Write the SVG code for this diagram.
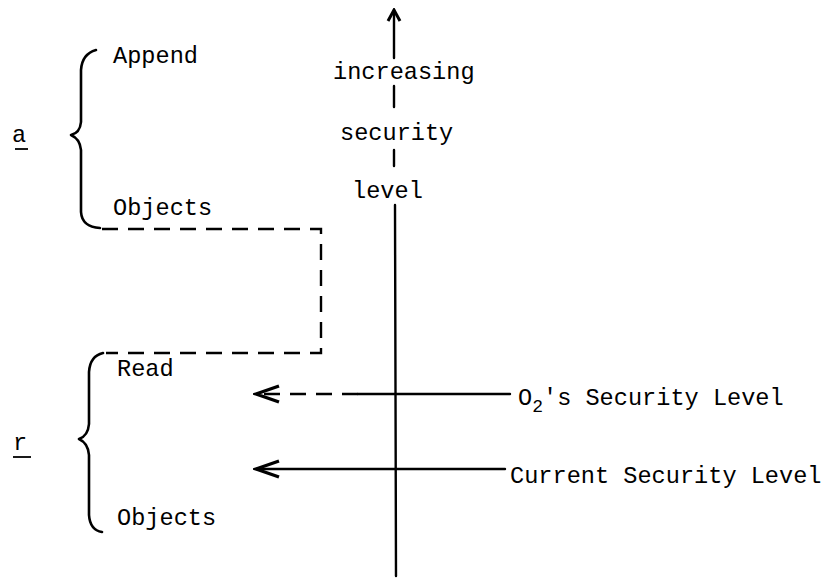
<svg xmlns="http://www.w3.org/2000/svg" width="840" height="579" viewBox="0 0 840 579">
  <style>
    .t { font-family: "Liberation Mono", "DejaVu Sans Mono", monospace; font-size: 23.6px; fill: #000; }
    .ln { stroke: #000; stroke-width: 2.4; fill: none; stroke-linecap: round; }
    .dash { stroke: #000; stroke-width: 2.4; fill: none; stroke-dasharray: 16 10; }
    .brace { stroke: #000; stroke-width: 2.6; fill: none; stroke-linecap: round; stroke-linejoin: round; }
    .ul { stroke: #000; stroke-width: 1.8; }
  </style>
  <defs>
    <marker id="head" viewBox="0 0 30 20" refX="27" refY="10" markerWidth="30" markerHeight="20" markerUnits="userSpaceOnUse" orient="auto">
      <path d="M4,2 L27,10 L4,18" stroke="#000" stroke-width="3.4" fill="none" stroke-linejoin="miter"/>
    </marker>
    <marker id="up" viewBox="0 0 20 20" refX="10" refY="2" markerWidth="20" markerHeight="20" markerUnits="userSpaceOnUse" orient="0">
      <path d="M4,13 L10,2 L16,13" stroke="#000" stroke-width="3" fill="none"/>
    </marker>
  </defs>

  <!-- vertical axis: increasing security level -->
  <g id="axis">
    <line class="ln" x1="394" y1="58" x2="394" y2="10" marker-end="url(#up)"/>
    <line class="ln" x1="394" y1="86" x2="394" y2="107"/>
    <line class="ln" x1="394" y1="150" x2="394" y2="166"/>
    <line class="ln" x1="395" y1="205" x2="396" y2="576"/>
    <text class="t" x="333" y="79">increasing</text>
    <text class="t" x="340" y="140">security</text>
    <text class="t" x="352" y="198">level</text>
  </g>

  <!-- append objects group -->
  <g id="append">
    <text class="t" x="12" y="142">a</text>
    <line class="ul" x1="15" y1="149" x2="28" y2="149"/>
    <path class="brace" d="M96,50 Q82,54 81,70 L81,122 Q80,133 71,135 Q80,139 81,150 L81,212 Q82,227 100,228"/>
    <text class="t" x="113" y="63">Append</text>
    <text class="t" x="113" y="215">Objects</text>
  </g>

  <!-- read objects group -->
  <g id="read">
    <text class="t" x="13" y="450">r</text>
    <line class="ul" x1="13" y1="457" x2="31" y2="457"/>
    <path class="brace" d="M103,353 Q90,356 89,372 L89,424 Q88,436 79,439 Q88,443 89,455 L89,515 Q90,530 102,532"/>
    <text class="t" x="117" y="376">Read</text>
    <text class="t" x="117" y="525">Objects</text>
  </g>

  <!-- level labels -->
  <g id="o2-level">
    <text class="t" x="518" y="405">O<tspan font-size="18" dy="7">2</tspan><tspan dy="-7">'s Security Level</tspan></text>
  </g>
  <g id="current-level">
    <text class="t" x="510" y="483">Current Security Level</text>
  </g>

  <g id="connectors">
    <!-- dashed link from append objects down to read objects -->
    <path class="dash" d="M102,229 L321,229 L321,353 L106,353"/>
    <!-- O2 level arrow -->
    <line class="dash" x1="358" y1="394" x2="256" y2="394" stroke-dasharray="22 8" marker-end="url(#head)"/>
    <line class="ln" x1="510" y1="394" x2="358" y2="394"/>
    <!-- current level arrow -->
    <line class="ln" x1="505" y1="469" x2="256" y2="469" marker-end="url(#head)"/>
  </g>
</svg>
